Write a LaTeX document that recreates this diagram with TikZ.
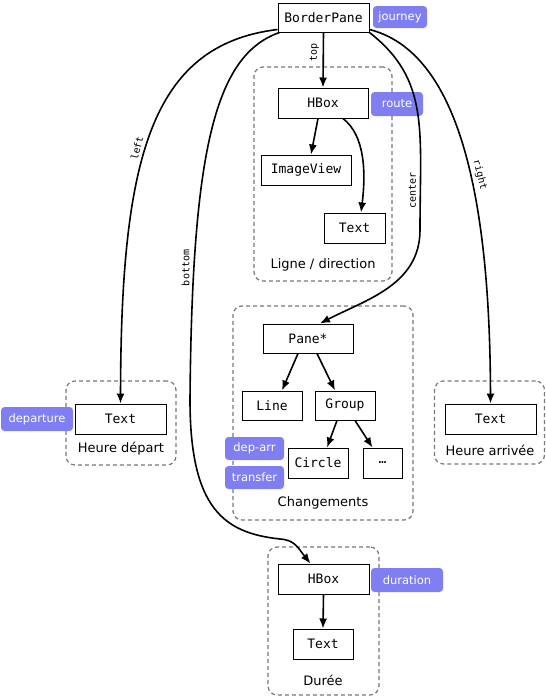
\documentclass[tikz,border=0pt]{standalone}
\usepackage{fontspec}
\setmainfont{DejaVu Sans}
\setmonofont{DejaVu Sans Mono}
\usetikzlibrary{arrows.meta,shadows}
\definecolor{tagc}{RGB}{127,127,242}
\definecolor{grpc}{RGB}{120,120,120}
\begin{document}
\begin{tikzpicture}[x=1pt,y=-1pt,
  box/.style={draw=black, line width=1pt, fill=white, inner sep=0pt,
    font=\ttfamily\fontsize{13}{15}\selectfont,
    drop shadow={shadow xshift=1pt, shadow yshift=-1pt, opacity=0.35, fill=black}},
  tag/.style={fill=tagc, rounded corners=3.5pt, text=white, inner sep=0pt,
    font=\fontsize{11.5}{13}\selectfont},
  grp/.style={draw=grpc, dash pattern=on 4pt off 3pt, line width=1.2pt,
    rounded corners=9pt, inner sep=0pt},
  glabel/.style={font=\fontsize{13}{15}\selectfont, inner sep=0pt},
  edge/.style={line width=1.6pt, -{Latex[length=10pt,width=8pt]}},
  elabel/.style={font=\ttfamily\fontsize{10}{12}\selectfont, inner sep=3.5pt},
]
\useasboundingbox (0,0) rectangle (546,697);

% groups
\node[grp, minimum width=138pt, minimum height=214pt] (gline) at (323,174) {};
\node[grp, minimum width=180pt, minimum height=214pt] (gchg) at (323,413) {};
\node[grp, minimum width=110pt, minimum height=84pt] (gdep) at (121,423) {};
\node[grp, minimum width=110pt, minimum height=83pt] (garr) at (489.5,422.5) {};
\node[grp, minimum width=111pt, minimum height=148pt] (gdur) at (323.5,621) {};

% group labels
\node[glabel] (lline) at (323,265) {Ligne / direction};
\node[glabel] (lchg) at (323,503) {Changements};
\node[glabel] (ldep) at (121,449) {Heure départ};
\node[glabel] (larr) at (490,450) {Heure arrivée};
\node[glabel] (ldur) at (323,680) {Durée};

% boxes
\node[box, minimum width=91pt, minimum height=29pt] (bp) at (323.5,17.5) {BorderPane};
\node[box, minimum width=90pt, minimum height=30pt] (hb1) at (323,103) {HBox};
\node[box, minimum width=90pt, minimum height=30pt] (iv) at (306,170) {ImageView};
\node[box, minimum width=61pt, minimum height=30pt] (t1) at (354.5,228) {Text};
\node[box, minimum width=90pt, minimum height=29pt] (pane) at (308,338.5) {Pane*};
\node[box, minimum width=60pt, minimum height=29pt] (line) at (272,405.5) {Line};
\node[box, minimum width=60pt, minimum height=29pt] (grp) at (345,405.5) {Group};
\node[box, minimum width=60pt, minimum height=30pt] (circ) at (318,463) {Circle};
\node[box, minimum width=39pt, minimum height=30pt] (dots) at (382.5,463) {…};
\node[box, minimum width=91pt, minimum height=30pt] (tdep) at (120.5,419) {Text};
\node[box, minimum width=91pt, minimum height=30pt] (tarr) at (490.5,419) {Text};
\node[box, minimum width=91pt, minimum height=30pt] (hb2) at (323.5,579) {HBox};
\node[box, minimum width=60pt, minimum height=30pt] (t2) at (323,644) {Text};

% tags
\node[tag, minimum width=54pt, minimum height=22pt] (tjour) at (400,17) {journey};
\node[tag, minimum width=52pt, minimum height=24pt] (troute) at (397,104) {route};
\node[tag, minimum width=72pt, minimum height=24pt] (tdepart) at (37,419) {departure};
\node[tag, minimum width=59pt, minimum height=23pt] (tdeparr) at (254.5,448.5) {dep-arr};
\node[tag, minimum width=59pt, minimum height=23pt] (ttrans) at (254.5,477.5) {transfer};
\node[tag, minimum width=72pt, minimum height=24pt] (tdur) at (407,580) {duration};

% edges inside groups
\draw[edge] ([xshift=-5pt]hb1.south) -- ([xshift=5pt]iv.north);
\draw[edge] ([xshift=20pt]hb1.south) .. controls +(22,17) and +(5,-40) .. ([xshift=6.5pt]t1.north);
\draw[edge] ([xshift=-10pt]pane.south) -- ([xshift=10pt]line.north);
\draw[edge] ([xshift=9pt]pane.south) -- ([xshift=-10pt]grp.north);
\draw[edge] ([xshift=-8pt]grp.south) -- ([xshift=9pt]circ.north);
\draw[edge] ([xshift=10pt]grp.south) -- ([xshift=-10pt]dots.north);
\draw[edge] (hb2.south) -- (t2.north);

% edges from BorderPane
\draw[edge] (bp.south) -- node[elabel, pos=0.36, rotate=90, anchor=south] {top} (hb1.north);
\draw[edge] ([yshift=3pt]bp.south west) .. controls (150,45) and (121,160) .. (tdep.north)
  node[elabel, pos=0.55, rotate=76, anchor=south] {left};
\draw[edge] ([yshift=3pt]bp.south east) .. controls (450,50) and (490,170) .. (tarr.north)
  node[elabel, pos=0.6, rotate=-76, anchor=south] {right};
\draw[edge] (bp.south east) .. controls (430,80) and (420,130) .. (420,230)
  node[elabel, pos=0.86, rotate=90, anchor=south] {center}
  .. controls (420,285) and (365,300) .. ([xshift=12pt]pane.north);
\draw[edge] ([xshift=2pt]bp.south west) .. controls (215,55) and (192,150) .. (190,400)
  node[elabel, pos=0.8, rotate=90, anchor=south] {bottom}
  .. controls (190,510) and (225,533) .. (280,539)
  .. controls (295,540) and (298,548) .. ([xshift=-13pt]hb2.north);
\end{tikzpicture}
\end{document}
